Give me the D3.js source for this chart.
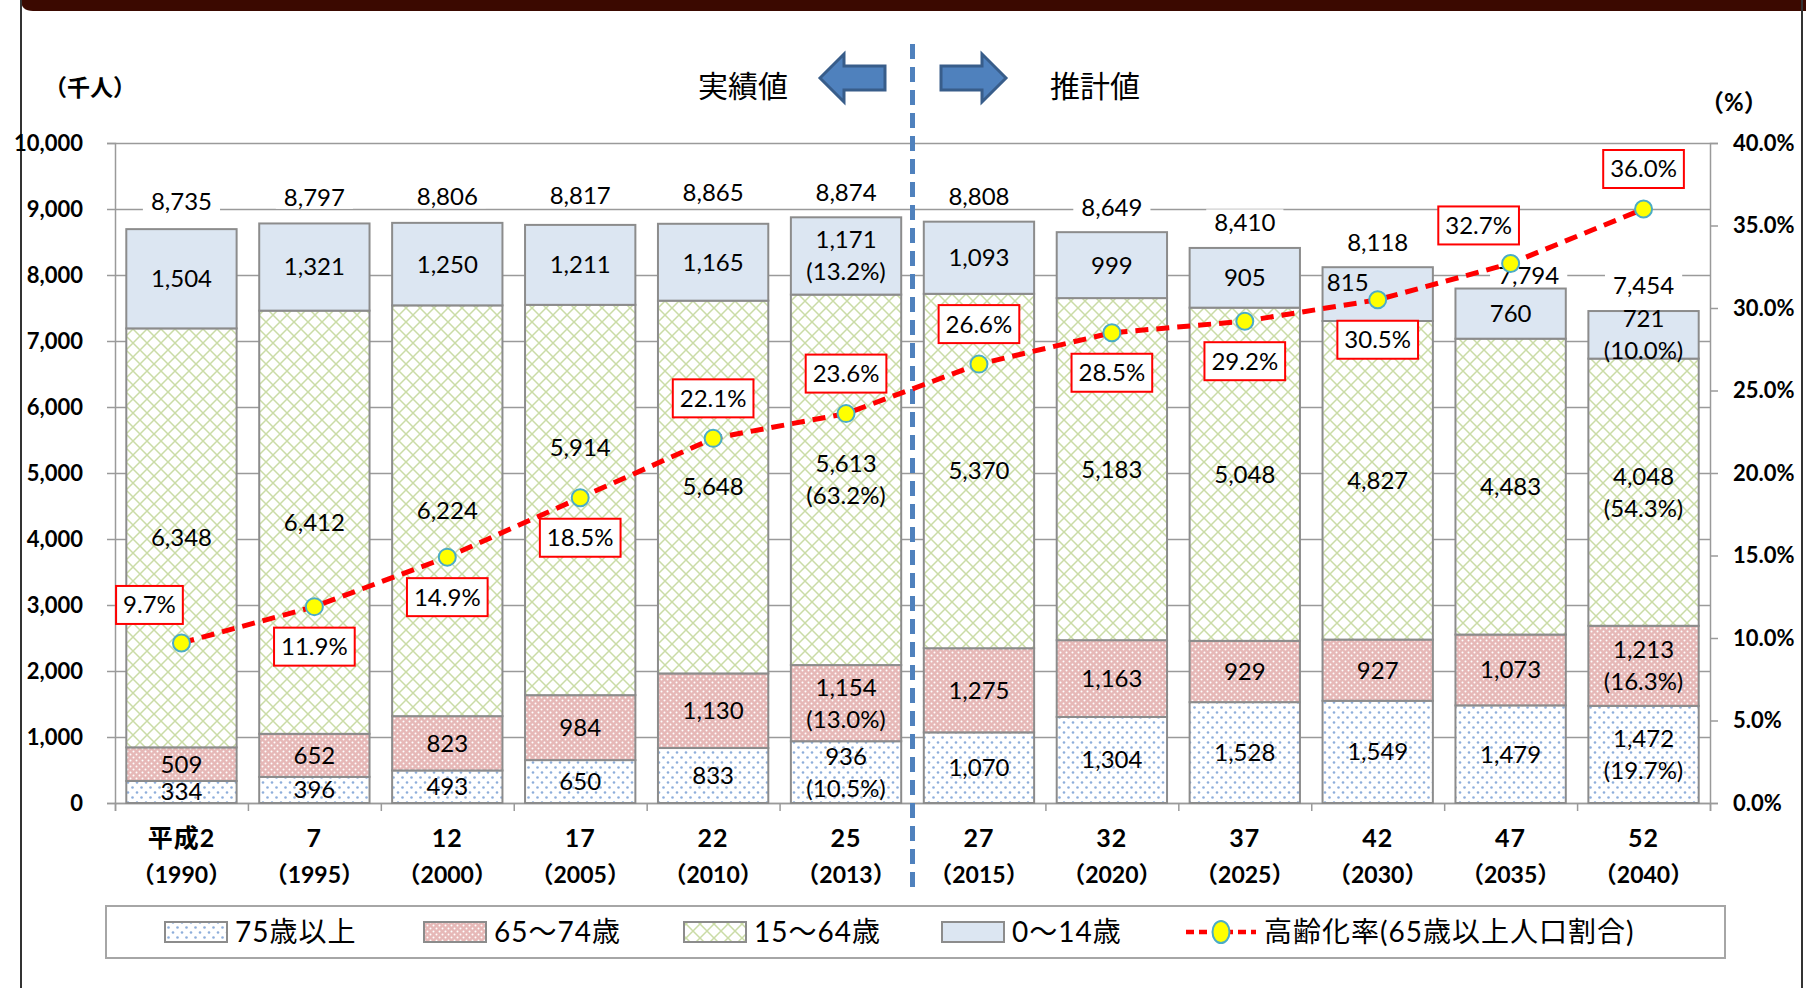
<!DOCTYPE html>
<html>
<head>
<meta charset="utf-8">
<script src="https://cdn.jsdelivr.net/npm/d3@7/dist/d3.min.js"></script>
<style>
  body { margin: 0; background: #fff; }
  svg { display: block; }
  text { font-family: Lato, "Noto Sans CJK JP", sans-serif; fill: #000; }
</style>
</head>
<body>
<svg id="chart" width="1806" height="988"></svg>
<script>
// --- data ---
const categories = ["平成2", "7", "12", "17", "22", "25", "27", "32", "37", "42", "47", "52"];
const years = ["1990", "1995", "2000", "2005", "2010", "2013", "2015", "2020", "2025", "2030", "2035", "2040"];
const age75plus = [334, 396, 493, 650, 833, 936, 1070, 1304, 1528, 1549, 1479, 1472];
const age65to74 = [509, 652, 823, 984, 1130, 1154, 1275, 1163, 929, 927, 1073, 1213];
const age15to64 = [6348, 6412, 6224, 5914, 5648, 5613, 5370, 5183, 5048, 4827, 4483, 4048];
const age0to14 = [1504, 1321, 1250, 1211, 1165, 1171, 1093, 999, 905, 815, 760, 721];
const totals = [8735, 8797, 8806, 8817, 8865, 8874, 8808, 8649, 8410, 8118, 7794, 7454];
const agingRate = [9.7, 11.9, 14.9, 18.5, 22.1, 23.6, 26.6, 28.5, 29.2, 30.5, 32.7, 36.0];
// shares shown for 2013 and 2040
const noteYears = ["2013", "2040"];
const share75plus = [10.5, 19.7];
const share65to74 = [13.0, 16.3];
const share15to64 = [63.2, 54.3];
const share0to14 = [13.2, 10.0];
const rateLabelSide = ["upleft", "below", "below", "below", "above", "above", "above", "below", "below", "below", "upleft", "above"];
const leftTicks = d3.range(0, 10001, 1000);
const rightTicks = d3.range(0, 40.1, 5);
const legendNames = ["75歳以上", "65～74歳", "15～64歳", "0～14歳", "高齢化率(65歳以上人口割合)"];

const keys = ["a75", "a65", "a15", "a0"];
const shares = { a75: share75plus, a65: share65to74, a15: share15to64, a0: share0to14 };
const rows = categories.map((c, i) => ({
  i: i, a75: age75plus[i], a65: age65to74[i], a15: age15to64[i], a0: age0to14[i]
}));

const svg = d3.select("#chart");
const plotLeft = 115, plotRight = 1710, plotTop = 143, plotBottom = 803;

const x = d3.scaleBand().domain(d3.range(categories.length))
  .range([plotLeft, plotRight]).paddingInner(0.17).paddingOuter(0.085);
const y = d3.scaleLinear().domain([0, 10000]).range([plotBottom, plotTop]);
const yR = d3.scaleLinear().domain([0, 40]).range([plotBottom, plotTop]);
const xEdge = d3.scaleLinear().domain([0, categories.length]).range([plotLeft, plotRight]);
const cxOf = i => x(i) + x.bandwidth() / 2;
const markerR = 8.5;

// does a text box touch one of the rate markers?
function hitsMarker(b) {
  return agingRate.some((v, i) => {
    const mx = cxOf(i), my = yR(v);
    const nx = Math.max(b.x, Math.min(mx, b.x + b.width));
    const ny = Math.max(b.y + 4, Math.min(my, b.y + b.height - 4));
    return Math.hypot(mx - nx, my - ny) < markerR + 1;
  });
}

// --- patterns ---
const defs = svg.append("defs");
const p75 = defs.append("pattern").attr("id", "p75").attr("patternUnits", "userSpaceOnUse")
  .attr("width", 9).attr("height", 10);
p75.append("rect").attr("width", 9).attr("height", 10).attr("fill", "#fff");
p75.append("circle").attr("cx", 2).attr("cy", 2.5).attr("r", 1.3).attr("fill", "#8eaedb");
p75.append("circle").attr("cx", 6.5).attr("cy", 7.5).attr("r", 1.3).attr("fill", "#8eaedb");

const p65 = defs.append("pattern").attr("id", "p65").attr("patternUnits", "userSpaceOnUse")
  .attr("width", 6).attr("height", 6);
p65.append("rect").attr("width", 6).attr("height", 6).attr("fill", "#e6b8b7");
p65.append("circle").attr("cx", 1.5).attr("cy", 1.5).attr("r", 1).attr("fill", "#fff");
p65.append("circle").attr("cx", 4.5).attr("cy", 4.5).attr("r", 1).attr("fill", "#fff");

const p15 = defs.append("pattern").attr("id", "p15").attr("patternUnits", "userSpaceOnUse")
  .attr("width", 14).attr("height", 14);
p15.append("rect").attr("width", 14).attr("height", 14).attr("fill", "#fff");
p15.append("path").attr("d", "M0,0L14,14M14,0L0,14").attr("stroke", "#cadca6").attr("stroke-width", 1.5);

const fills = { a75: "url(#p75)", a65: "url(#p65)", a15: "url(#p15)", a0: "#dce6f2" };

// --- frame ---
svg.append("path")
  .attr("d", "M21,0H1806V11H33Q21,11 21,0Z")
  .attr("fill", "#3b0900");
svg.append("line").attr("x1", 21).attr("x2", 21).attr("y1", 0).attr("y2", 988)
  .attr("stroke", "#333").attr("stroke-width", 2);
svg.append("line").attr("x1", 1802).attr("x2", 1802).attr("y1", 0).attr("y2", 988)
  .attr("stroke", "#333").attr("stroke-width", 2);

// --- gridlines ---
svg.append("g").attr("transform", `translate(${plotLeft},0)`)
  .call(d3.axisLeft(y).tickValues(leftTicks).tickSize(-(plotRight - plotLeft)).tickFormat(""))
  .call(g => g.select(".domain").remove())
  .call(g => g.selectAll("line").attr("stroke", "#9a9a9a").attr("stroke-width", 1.5));

// --- axes ---
const axisStyle = g => {
  g.select(".domain").attr("stroke", "#9a9a9a").attr("stroke-width", 1.5);
  g.selectAll(".tick line").attr("stroke", "#9a9a9a").attr("stroke-width", 1.5);
  g.selectAll("text").attr("font-size", 22).attr("font-weight", "bold")
    .attr("font-family", "Lato, sans-serif").attr("fill", "#000");
};
svg.append("g").attr("transform", `translate(${plotLeft},0)`)
  .call(d3.axisLeft(y).tickValues(leftTicks).tickSize(8).tickPadding(24).tickFormat(d3.format(",")))
  .call(axisStyle);
svg.append("g").attr("transform", `translate(${plotRight},0)`)
  .call(d3.axisRight(yR).tickValues(rightTicks).tickSize(8).tickPadding(15).tickFormat(d => d.toFixed(1) + "%"))
  .call(axisStyle);
svg.append("g").attr("transform", `translate(0,${plotBottom})`)
  .call(d3.axisBottom(xEdge).tickValues(d3.range(0, categories.length + 1)).tickSize(8).tickFormat(""))
  .call(axisStyle);

// --- stacked bars ---
const series = d3.stack().keys(keys)(rows);
const layers = svg.append("g").selectAll("g").data(series).join("g")
  .attr("fill", d => fills[d.key]);
layers.selectAll("rect").data(d => d).join("rect")
  .attr("x", d => x(d.data.i))
  .attr("width", x.bandwidth())
  .attr("y", d => y(d[1]))
  .attr("height", d => y(d[0]) - y(d[1]))
  .attr("stroke", "#8c8c8c")
  .attr("stroke-width", 2);

// segment labels
const segLabels = svg.append("g");
series.forEach(s => {
  s.forEach(d => {
    const i = d.data.i;
    const cx = cxOf(i);
    const cy = (y(d[0]) + y(d[1])) / 2;
    const segH = y(d[0]) - y(d[1]);
    const note = noteYears.indexOf(years[i]);
    const t = segLabels.append("text").attr("x", cx).attr("text-anchor", "middle")
      .attr("font-size", 24);
    if (note >= 0) {
      t.attr("y", cy - 16).attr("dy", "0.35em");
      t.append("tspan").attr("x", cx).text(d3.format(",")(d.data[s.key]));
      t.append("tspan").attr("x", cx).attr("dy", 32).text("(" + shares[s.key][note].toFixed(1) + "%)");
    } else {
      t.attr("y", cy).attr("dy", "0.35em").text(d3.format(",")(d.data[s.key]));
      // move out of the way of the rate marker
      if (hitsMarker(t.node().getBBox())) {
        if (segH > 120) t.attr("y", cy - 52);
        else t.attr("x", cx - 30).attr("y", cy - 12);
      }
    }
  });
});

// total labels with white background
const totalG = svg.append("g");
totals.forEach((v, i) => {
  let cx = cxOf(i);
  let cy = y(v) - 25;
  const g = totalG.append("g");
  const t = g.append("text").attr("x", cx).attr("y", cy).attr("dy", "0.35em")
    .attr("text-anchor", "middle").attr("font-size", 24).text(d3.format(",")(v));
  if (hitsMarker(t.node().getBBox())) {
    cx += 18; cy += 12;
    t.attr("x", cx).attr("y", cy);
  }
  const b = t.node().getBBox();
  g.insert("rect", "text").attr("x", b.x - 8).attr("y", b.y + 2).attr("width", b.width + 16)
    .attr("height", b.height - 4).attr("fill", "#fff");
});

// --- category labels ---
const catG = svg.append("g");
categories.forEach((c, i) => {
  const cx = cxOf(i);
  catG.append("text").attr("x", cx).attr("y", 838).attr("dy", "0.35em")
    .attr("text-anchor", "middle").attr("font-size", 25).attr("font-weight", "bold")
    .attr("letter-spacing", 1).text(c);
  catG.append("text").attr("x", cx).attr("y", 875).attr("dy", "0.35em")
    .attr("text-anchor", "middle").attr("font-size", 23).attr("font-weight", "bold")
    .text("（" + years[i] + "）");
});

// --- divider between actual and projected ---
svg.append("line").attr("x1", xEdge(6)).attr("x2", xEdge(6)).attr("y1", 44).attr("y2", 895)
  .attr("stroke", "#4f81bd").attr("stroke-width", 5).attr("stroke-dasharray", "15,8");

// --- aging rate line ---
svg.append("path").datum(agingRate)
  .attr("fill", "none").attr("stroke", "#ff0000").attr("stroke-width", 5)
  .attr("stroke-dasharray", "13,8")
  .attr("d", d3.line().x((d, i) => cxOf(i)).y(d => yR(d)));
svg.append("g").selectAll("circle").data(agingRate).join("circle")
  .attr("cx", (d, i) => cxOf(i)).attr("cy", d => yR(d)).attr("r", markerR)
  .attr("fill", "#ffff00").attr("stroke", "#4bacc6").attr("stroke-width", 2);

// rate labels in red boxes
const rateG = svg.append("g");
agingRate.forEach((v, i) => {
  let dx = 0, dy = 40;
  if (rateLabelSide[i] === "above") dy = -40;
  if (rateLabelSide[i] === "upleft") { dx = -32; dy = -38; }
  const cx = cxOf(i) + dx, cy = yR(v) + dy;
  const g = rateG.append("g");
  const t = g.append("text").attr("x", cx).attr("y", cy).attr("dy", "0.35em")
    .attr("text-anchor", "middle").attr("font-size", 24).text(v.toFixed(1) + "%");
  const b = t.node().getBBox();
  g.insert("rect", "text").attr("x", cx - b.width / 2 - 7).attr("y", cy - 19)
    .attr("width", b.width + 14).attr("height", 38)
    .attr("fill", "#fff").attr("stroke", "#ff0000").attr("stroke-width", 2);
});

// --- headings ---
svg.append("text").attr("x", 44).attr("y", 88).attr("dy", "0.35em")
  .attr("font-size", 23).attr("font-weight", "bold").text("（千人）");
svg.append("text").attr("x", 1700).attr("y", 103).attr("dy", "0.35em")
  .attr("font-size", 24).attr("font-weight", "bold").text("（%）");
svg.append("text").attr("x", 743).attr("y", 86).attr("dy", "0.35em").attr("text-anchor", "middle")
  .attr("font-size", 30).text("実績値");
svg.append("text").attr("x", 1095).attr("y", 86).attr("dy", "0.35em").attr("text-anchor", "middle")
  .attr("font-size", 30).text("推計値");
// arrows
const arrowStyle = s => s.attr("fill", "#4f81bd").attr("stroke", "#385d8a").attr("stroke-width", 3);
svg.append("path").attr("d", "M820,78L844,54L844,66L885,66L885,90L844,90L844,102Z").call(arrowStyle);
svg.append("path").attr("d", "M1006,78L982,54L982,66L941,66L941,90L982,90L982,102Z").call(arrowStyle);

// --- legend ---
const lg = svg.append("g");
lg.append("rect").attr("x", 106).attr("y", 906).attr("width", 1619).attr("height", 52)
  .attr("fill", "#fff").attr("stroke", "#a6a6a6").attr("stroke-width", 2);
const swatchX = [165, 424, 684, 942];
keys.forEach((k, j) => {
  lg.append("rect").attr("x", swatchX[j]).attr("y", 922).attr("width", 62).attr("height", 20)
    .attr("fill", fills[k]).attr("stroke", "#8c8c8c").attr("stroke-width", 2);
  lg.append("text").attr("x", swatchX[j] + 70).attr("y", 932).attr("dy", "0.35em")
    .attr("font-size", 28).attr("letter-spacing", 1).text(legendNames[j]);
});
lg.append("line").attr("x1", 1186).attr("x2", 1256).attr("y1", 932).attr("y2", 932)
  .attr("stroke", "#ff0000").attr("stroke-width", 4.5).attr("stroke-dasharray", "8,5");
lg.append("ellipse").attr("cx", 1221).attr("cy", 932).attr("rx", 8.5).attr("ry", 11)
  .attr("fill", "#ffff00").attr("stroke", "#4bacc6").attr("stroke-width", 2);
lg.append("text").attr("x", 1264).attr("y", 932).attr("dy", "0.35em")
  .attr("font-size", 28).attr("letter-spacing", 1).text(legendNames[4]);
</script>
</body>
</html>
